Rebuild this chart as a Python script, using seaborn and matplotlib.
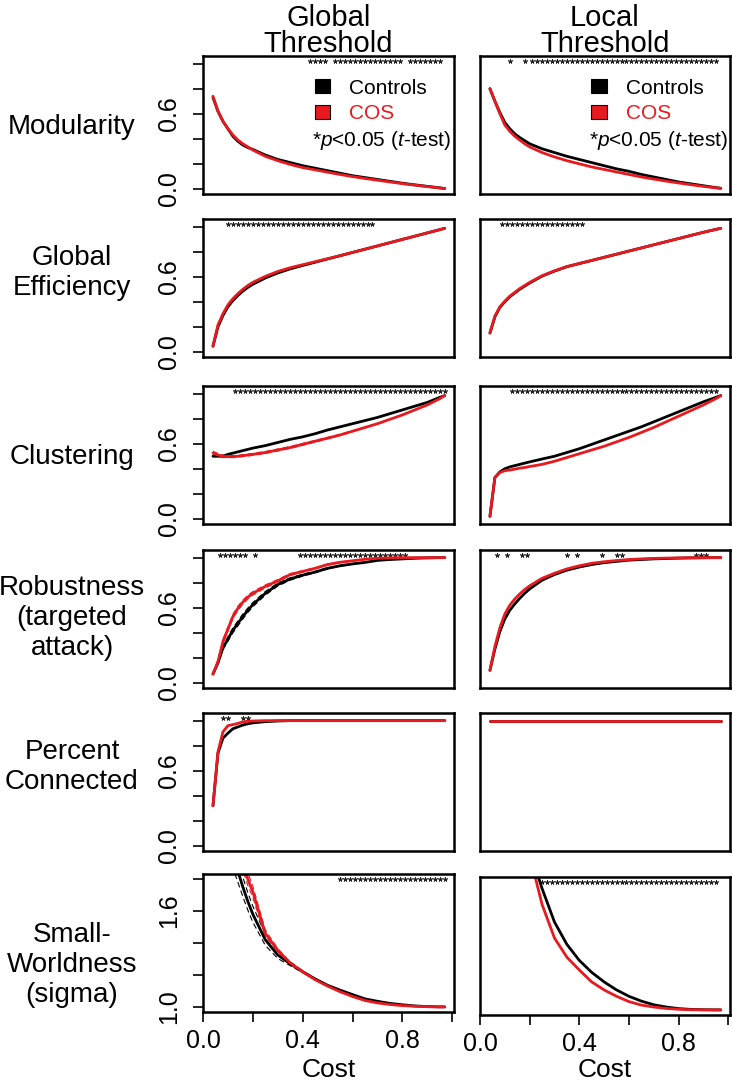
import numpy as np
import pandas as pd
import matplotlib
matplotlib.use("Agg")
import matplotlib.pyplot as plt
import seaborn as sns
from matplotlib.patches import Patch

sns.set_theme(style="white")
plt.rcParams['font.family'] = ['Liberation Sans', 'DejaVu Sans']
plt.rcParams['mathtext.fontset'] = 'custom'
plt.rcParams['mathtext.rm'] = 'Liberation Sans'
plt.rcParams['mathtext.it'] = 'Liberation Sans:italic'
for k in ('text.color', 'axes.labelcolor', 'xtick.color', 'ytick.color', 'axes.edgecolor'):
    plt.rcParams[k] = 'black'

RED = '#E8191F'

# ---------------- data ----------------
cost = [0.04, 0.06, 0.08, 0.10, 0.12, 0.14, 0.16, 0.18, 0.20, 0.25, 0.30, 0.35,
        0.40, 0.45, 0.50, 0.55, 0.60, 0.65, 0.70, 0.75, 0.80, 0.85, 0.90, 0.95, 0.97]

mod_global_ctrl = [0.73, 0.62, 0.54, 0.48, 0.42, 0.38, 0.35, 0.33, 0.315, 0.27, 0.235, 0.21,
                   0.185, 0.165, 0.145, 0.125, 0.105, 0.09, 0.075, 0.06, 0.045, 0.032, 0.02, 0.008, 0.003]
mod_global_cos = [0.74, 0.62, 0.54, 0.48, 0.43, 0.39, 0.36, 0.335, 0.31, 0.26, 0.225, 0.195,
                  0.17, 0.152, 0.133, 0.115, 0.098, 0.083, 0.069, 0.055, 0.042, 0.03, 0.018, 0.007, 0.002]
mod_local_ctrl = [0.80, 0.70, 0.61, 0.53, 0.48, 0.44, 0.41, 0.385, 0.36, 0.32, 0.29, 0.26,
                  0.235, 0.21, 0.185, 0.16, 0.14, 0.115, 0.095, 0.075, 0.055, 0.04, 0.025, 0.01, 0.005]
mod_local_cos = [0.80, 0.70, 0.60, 0.51, 0.46, 0.42, 0.39, 0.36, 0.335, 0.29, 0.255, 0.225,
                 0.20, 0.175, 0.155, 0.135, 0.115, 0.095, 0.078, 0.062, 0.047, 0.033, 0.02, 0.008, 0.004]

geff_global_ctrl = [0.045, 0.20, 0.29, 0.36, 0.41, 0.45, 0.485, 0.515, 0.54, 0.59, 0.63, 0.663,
                    0.69, 0.716, 0.742, 0.768, 0.794, 0.82, 0.846, 0.872, 0.898, 0.924, 0.95, 0.976, 0.987]
geff_global_cos = [0.045, 0.215, 0.305, 0.375, 0.425, 0.465, 0.50, 0.53, 0.555, 0.603, 0.642, 0.672,
                   0.696, 0.72, 0.744, 0.768, 0.794, 0.82, 0.846, 0.872, 0.898, 0.924, 0.95, 0.976, 0.987]
geff_local_ctrl = [0.15, 0.28, 0.355, 0.40, 0.44, 0.47, 0.50, 0.525, 0.55, 0.605, 0.645, 0.68,
                   0.705, 0.73, 0.755, 0.78, 0.805, 0.83, 0.855, 0.88, 0.905, 0.93, 0.955, 0.978, 0.987]
geff_local_cos = [0.15, 0.285, 0.36, 0.405, 0.445, 0.475, 0.505, 0.53, 0.555, 0.608, 0.647, 0.681,
                  0.706, 0.73, 0.755, 0.78, 0.805, 0.83, 0.855, 0.88, 0.905, 0.93, 0.955, 0.978, 0.987]

clust_global_ctrl = [0.50, 0.50, 0.50, 0.515, 0.525, 0.535, 0.545, 0.555, 0.565, 0.585, 0.61, 0.635,
                     0.655, 0.68, 0.71, 0.735, 0.76, 0.785, 0.81, 0.84, 0.87, 0.90, 0.93, 0.97, 0.985]
clust_global_cos = [0.525, 0.51, 0.50, 0.497, 0.497, 0.50, 0.505, 0.51, 0.515, 0.53, 0.55, 0.57,
                    0.595, 0.62, 0.645, 0.67, 0.70, 0.73, 0.76, 0.795, 0.83, 0.87, 0.91, 0.96, 0.985]
clust_local_ctrl = [0.02, 0.33, 0.375, 0.40, 0.415, 0.425, 0.435, 0.445, 0.455, 0.478, 0.50, 0.53,
                    0.56, 0.595, 0.63, 0.665, 0.70, 0.735, 0.775, 0.815, 0.855, 0.895, 0.935, 0.97, 0.985]
clust_local_cos = [0.02, 0.33, 0.37, 0.385, 0.39, 0.397, 0.405, 0.41, 0.418, 0.435, 0.46, 0.49,
                   0.52, 0.55, 0.58, 0.615, 0.65, 0.69, 0.73, 0.775, 0.82, 0.865, 0.91, 0.96, 0.983]

robust_global_ctrl = [0.07, 0.16, 0.28, 0.35, 0.42, 0.475, 0.53, 0.58, 0.625, 0.715, 0.785, 0.83,
                      0.86, 0.885, 0.915, 0.935, 0.95, 0.962, 0.978, 0.985, 0.99, 0.995, 0.998, 1.0, 1.0]
robust_global_cos = [0.07, 0.17, 0.33, 0.43, 0.53, 0.595, 0.645, 0.685, 0.715, 0.77, 0.815, 0.865,
                     0.89, 0.915, 0.945, 0.963, 0.975, 0.987, 0.995, 0.998, 1.0, 1.0, 1.0, 1.0, 1.0]
robust_local_ctrl = [0.10, 0.27, 0.41, 0.51, 0.58, 0.63, 0.675, 0.715, 0.75, 0.82, 0.865, 0.90,
                     0.925, 0.945, 0.96, 0.97, 0.98, 0.985, 0.99, 0.993, 0.996, 0.998, 0.999, 1.0, 1.0]
robust_local_cos = [0.10, 0.29, 0.44, 0.55, 0.62, 0.67, 0.71, 0.745, 0.775, 0.835, 0.875, 0.91,
                    0.935, 0.955, 0.967, 0.977, 0.985, 0.99, 0.994, 0.996, 0.998, 0.999, 1.0, 1.0, 1.0]

pconn_global_ctrl = [0.32, 0.74, 0.86, 0.90, 0.935, 0.95, 0.965, 0.975, 0.982, 0.992, 0.997, 1.0,
                     1.0, 1.0, 1.0, 1.0, 1.0, 1.0, 1.0, 1.0, 1.0, 1.0, 1.0, 1.0, 1.0]
pconn_global_cos = [0.32, 0.75, 0.91, 0.96, 0.968, 0.978, 0.99, 0.995, 0.997, 1.0, 1.0, 1.0,
                    1.0, 1.0, 1.0, 1.0, 1.0, 1.0, 1.0, 1.0, 1.0, 1.0, 1.0, 1.0, 1.0]
pconn_local_ctrl = [1.0] * 25
pconn_local_cos = [1.0] * 25

sw_global_ctrl = [3.0, 2.6, 2.3, 2.1, 1.95, 1.85, 1.75, 1.66, 1.58, 1.42, 1.325, 1.27,
                  1.22, 1.175, 1.135, 1.105, 1.077, 1.05, 1.035, 1.022, 1.013, 1.006, 1.002, 1.0, 1.0]
sw_global_cos = [3.2, 2.8, 2.5, 2.3, 2.1, 1.97, 1.9, 1.8, 1.72, 1.46, 1.355, 1.275,
                 1.22, 1.17, 1.13, 1.095, 1.065, 1.04, 1.025, 1.015, 1.008, 1.004, 1.001, 1.0, 1.0]
sw_local_ctrl = [4.0, 3.6, 3.2, 2.9, 2.6, 2.4, 2.2, 2.08, 2.0, 1.76, 1.55, 1.41,
                 1.31, 1.235, 1.175, 1.125, 1.085, 1.055, 1.032, 1.018, 1.008, 1.003, 1.001, 1.0, 1.0]
sw_local_cos = [3.8, 3.4, 3.0, 2.7, 2.45, 2.25, 2.12, 2.03, 1.97, 1.66, 1.45, 1.33,
                1.25, 1.175, 1.125, 1.085, 1.052, 1.03, 1.018, 1.009, 1.004, 1.001, 1.0, 1.0, 1.0]

# standard errors (dashed bands)
se_clust_global_cos = [0.015, 0.012, 0.01, 0.008, 0.008, 0.008, 0.008, 0.008, 0.008, 0.008, 0.008, 0.008,
                       0.008, 0.007, 0.006, 0.005, 0.004, 0.003, 0.002, 0.0, 0.0, 0.0, 0.0, 0.0, 0.0]
se_robust_global_ctrl = [0.004, 0.01, 0.015, 0.018, 0.02, 0.02, 0.02, 0.018, 0.017, 0.015, 0.012, 0.01,
                         0.008, 0.006, 0.005, 0.004, 0.003, 0.002, 0.0, 0.0, 0.0, 0.0, 0.0, 0.0, 0.0]
se_robust_global_cos = [0.004, 0.01, 0.015, 0.018, 0.018, 0.017, 0.016, 0.015, 0.014, 0.012, 0.01, 0.008,
                        0.006, 0.005, 0.004, 0.003, 0.002, 0.0, 0.0, 0.0, 0.0, 0.0, 0.0, 0.0, 0.0]
se_sw_global_ctrl = [0.12, 0.11, 0.1, 0.09, 0.08, 0.07, 0.06, 0.055, 0.05, 0.035, 0.022, 0.012,
                     0.006, 0.003, 0.0, 0.0, 0.0, 0.0, 0.0, 0.0, 0.0, 0.0, 0.0, 0.0, 0.0]
se_sw_global_cos = [0.1, 0.09, 0.08, 0.07, 0.06, 0.05, 0.045, 0.04, 0.035, 0.022, 0.01, 0.005,
                    0.0, 0.0, 0.0, 0.0, 0.0, 0.0, 0.0, 0.0, 0.0, 0.0, 0.0, 0.0, 0.0]

# significant costs (runs on the 0.02-step cost grid)
stars_mod_global = [(0.43, 0.49), (0.53, 0.79), (0.83, 0.95)]
stars_mod_local = [(0.12, 0.12), (0.18, 0.18), (0.21, 0.95)]
stars_geff_global = [(0.10, 0.68)]
stars_geff_local = [(0.09, 0.41)]
stars_clust_global = [(0.13, 0.97)]
stars_clust_local = [(0.13, 0.95)]
stars_robust_global = [(0.07, 0.17), (0.21, 0.21), (0.39, 0.81)]
stars_robust_local = [(0.07, 0.07), (0.11, 0.11), (0.17, 0.19), (0.35, 0.35), (0.39, 0.39),
                      (0.49, 0.49), (0.55, 0.57), (0.87, 0.91)]
stars_pconn_global = [(0.08, 0.10), (0.16, 0.18)]
stars_pconn_local = []
stars_sw_global = [(0.55, 0.97)]
stars_sw_local = [(0.25, 0.95)]

row_labels = ['Modularity', 'Global\nEfficiency', 'Clustering',
              'Robustness\n(targeted\nattack)', 'Percent\nConnected', 'Small-\nWorldness\n(sigma)']
col_titles = ['Global\nThreshold', 'Local\nThreshold']

panels = [
    [(mod_global_ctrl, mod_global_cos, stars_mod_global, None),
     (mod_local_ctrl, mod_local_cos, stars_mod_local, None)],
    [(geff_global_ctrl, geff_global_cos, stars_geff_global, None),
     (geff_local_ctrl, geff_local_cos, stars_geff_local, None)],
    [(clust_global_ctrl, clust_global_cos, stars_clust_global, (None, se_clust_global_cos)),
     (clust_local_ctrl, clust_local_cos, stars_clust_local, None)],
    [(robust_global_ctrl, robust_global_cos, stars_robust_global,
      (se_robust_global_ctrl, se_robust_global_cos)),
     (robust_local_ctrl, robust_local_cos, stars_robust_local, None)],
    [(pconn_global_ctrl, pconn_global_cos, stars_pconn_global, None),
     (pconn_local_ctrl, pconn_local_cos, stars_pconn_local, None)],
    [(sw_global_ctrl, sw_global_cos, stars_sw_global, (se_sw_global_ctrl, se_sw_global_cos)),
     (sw_local_ctrl, sw_local_cos, stars_sw_local, None)],
]

# ---------------- layout ----------------
W, H = 732, 1085
fig = plt.figure(figsize=(W / 100, H / 100), dpi=100)
row_tops = [56, 219, 386, 550, 713, 874]
box_h = 138
col_lr = [(203, 454), (480, 730)]
row_label_y = [127, 273, 457, 618, 767, 965]

def expand(runs):
    out = []
    for a, b in runs:
        n = int(round((b - a) / 0.02)) + 1
        out.extend([round(a + 0.02 * i, 3) for i in range(n)])
    return out

for r in range(6):
    for c in range(2):
        ctrl, cos_, stars, se = panels[r][c]
        x0, x1 = col_lr[c]
        top = row_tops[r] + (3 if (r == 5 and c == 1) else 0)
        ax = fig.add_axes([x0 / W, 1 - (top + box_h) / H, (x1 - x0) / W, box_h / H])
        df = pd.DataFrame({'cost': cost * 2,
                           'value': list(ctrl) + list(cos_),
                           'group': ['Controls'] * len(cost) + ['COS'] * len(cost)})
        if se is not None:
            for vals, s, colr in ((ctrl, se[0], 'black'), (cos_, se[1], RED)):
                if s is None:
                    continue
                for sign in (1, -1):
                    sns.lineplot(x=cost, y=[v + sign * e for v, e in zip(vals, s)], ax=ax,
                                 color=colr, lw=0.8, linestyle=(0, (5, 3)),
                                 estimator=None, sort=False)
        sns.lineplot(data=df, x='cost', y='value', hue='group', hue_order=['Controls', 'COS'],
                     palette={'Controls': 'black', 'COS': RED}, ax=ax, legend=False,
                     linewidth=2.0, estimator=None, sort=False)
        sx = expand(stars)
        if r == 5:
            ylim = (0.968, 1.832)
            sy = 1.80
            yt = [1.0, 1.2, 1.4, 1.6, 1.8]
            ytl = ['1.0', '', '', '1.6', '']
        else:
            ylim = (-0.041, 1.061)
            sy = 1.02
            yt = [0.0, 0.2, 0.4, 0.6, 0.8, 1.0]
            ytl = ['0.0', '', '', '0.6', '', '']
        if sx:
            sns.scatterplot(x=sx, y=[sy] * len(sx), ax=ax, marker=(5, 2, 0), s=9,
                            color='#222222', linewidth=0.6, edgecolor='#222222', legend=False)
        ax.set_xlim(0.0, 1.007)
        ax.set_ylim(*ylim)
        ax.set_xlabel('')
        ax.set_ylabel('')
        for sp in ax.spines.values():
            sp.set_visible(True)
            sp.set_color('black')
            sp.set_linewidth(1.8)
        ax.tick_params(axis='both', which='both', direction='out', length=7, width=1.2,
                       color='black', labelsize=18, labelcolor='black')
        if c == 0:
            ax.set_yticks(yt)
            ax.set_yticklabels(ytl, rotation=90, va='center')
            ax.tick_params(axis='y', pad=9, left=True)
        else:
            ax.set_yticks([])
        if r == 5:
            ax.set_xticks([0.0, 0.2, 0.4, 0.6, 0.8, 1.0])
            ax.set_xticklabels(['0.0', '', '0.4', '', '0.8', ''])
            ax.tick_params(axis='x', pad=5, bottom=True)
            fig.text((x0 + x1) / 2 / W, 1 - 1070 / H, 'Cost', ha='center', va='center', fontsize=19)
        else:
            ax.set_xticks([])
        if r == 0:
            leg = ax.legend(handles=[Patch(facecolor='black', edgecolor='black', lw=0.8),
                                     Patch(facecolor=RED, edgecolor='black', lw=0.8)],
                            labels=['Controls', 'COS'], loc='center left',
                            bbox_to_anchor=(0.445, 0.675), frameon=False, fontsize=15,
                            handlelength=0.75, handleheight=0.65, handletextpad=0.9,
                            labelspacing=0.3, borderpad=0, borderaxespad=0)
            leg.get_texts()[0].set_color('black')
            leg.get_texts()[1].set_color(RED)
            ax.text(0.435, 0.39, r'*$\it{p}$<0.05 ($\it{t}$-test)', transform=ax.transAxes,
                    ha='left', va='center', fontsize=15)
            fig.text((x0 + x1) / 2 / W, 1 - 31 / H, col_titles[c], ha='center', va='center',
                     fontsize=21, linespacing=0.95)
    fig.text(72 / W, 1 - row_label_y[r] / H, row_labels[r], ha='center', va='center',
             fontsize=20, linespacing=1.2)

fig.savefig('out.png', dpi=100, facecolor='white')
